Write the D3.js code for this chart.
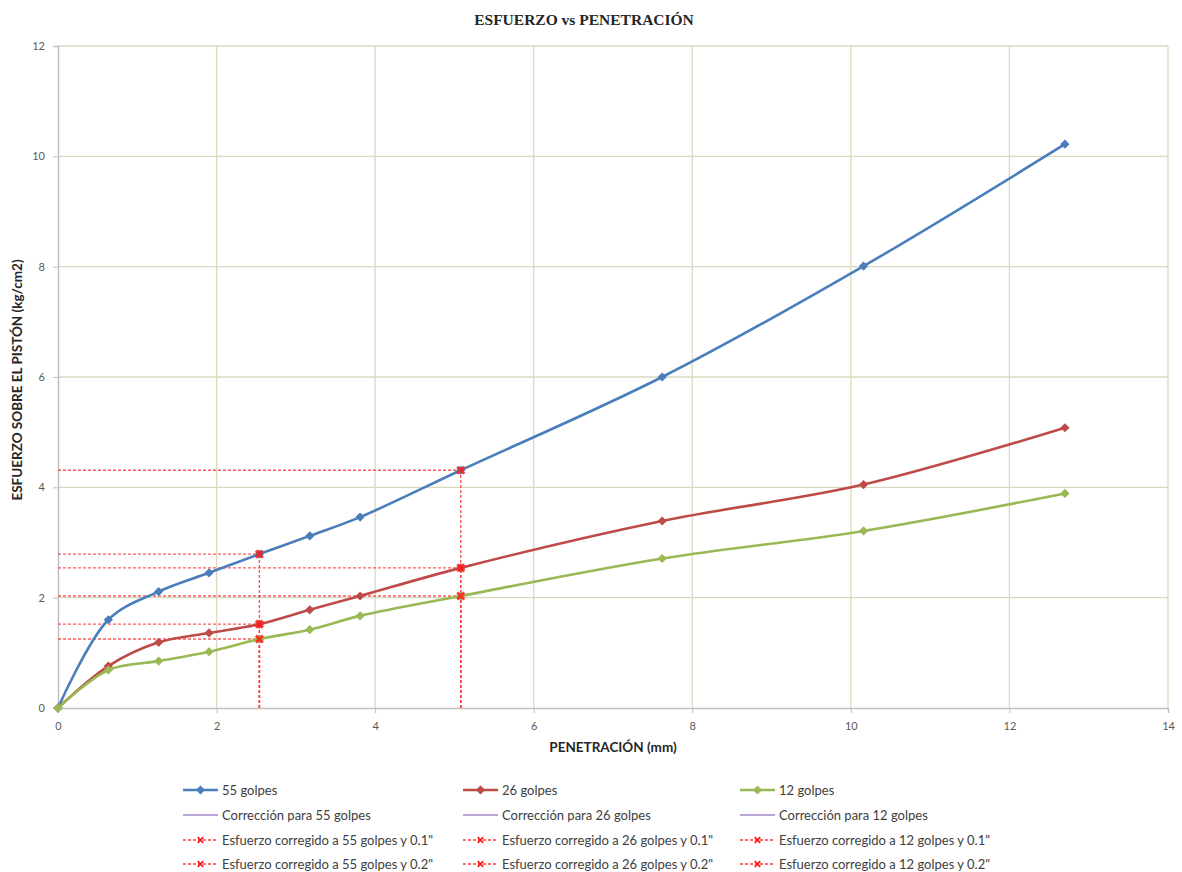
<!DOCTYPE html>
<html>
<head>
<meta charset="utf-8">
<script src="https://cdn.jsdelivr.net/npm/d3@7"></script>
<style>
  html, body { margin: 0; padding: 0; background: #fff; }
  svg { display: block; }
</style>
</head>
<body>
<svg id="chart" width="1182" height="872" font-family="Lato, 'Open Sans', sans-serif"></svg>
<script>
// Penetration readings (mm)
const penetration = [0, 0.635, 1.27, 1.905, 2.54, 3.175, 3.81, 5.08, 7.62, 10.16, 12.7];
// Piston stress (kg/cm2) for each compaction energy
const golpes55 = [0, 1.60, 2.11, 2.45, 2.79, 3.12, 3.46, 4.31, 6.00, 8.01, 10.22];
const golpes26 = [0, 0.76, 1.19, 1.36, 1.52, 1.78, 2.03, 2.54, 3.39, 4.05, 5.08];
const golpes12 = [0, 0.69, 0.85, 1.02, 1.25, 1.42, 1.67, 2.03, 2.71, 3.21, 3.89];

// Corrected stress at 0.1" (2.54 mm) and 0.2" (5.08 mm)
const correctedX = [2.54, 5.08];
const corrected55 = [2.79, 4.31];
const corrected26 = [1.52, 2.54];
const corrected12 = [1.25, 2.03];

const xTicks = [0, 2, 4, 6, 8, 10, 12, 14];
const yTicks = [0, 2, 4, 6, 8, 10, 12];

const seriesNames = ["55 golpes", "26 golpes", "12 golpes"];
const seriesColors = ["#4a7ebb", "#be4b48", "#98b954"];
const seriesValues = [golpes55, golpes26, golpes12];
const correctedValues = [corrected55, corrected26, corrected12];

const svg = d3.select("#chart");
const x = d3.scaleLinear().domain([0, 14]).range([58, 1168]);
const y = d3.scaleLinear().domain([0, 12]).range([708, 46]);

// Gridlines
const grid = svg.append("g");
grid.selectAll("line.gx").data(xTicks.slice(1)).join("line")
  .attr("x1", d => x(d)).attr("x2", d => x(d))
  .attr("y1", y(0)).attr("y2", y(12))
  .attr("stroke", "#dcd8bf").attr("stroke-width", 1.3);
grid.selectAll("line.gy").data(yTicks.slice(1)).join("line")
  .attr("x1", x(0)).attr("x2", x(14))
  .attr("y1", d => y(d)).attr("y2", d => y(d))
  .attr("stroke", "#dcd8bf").attr("stroke-width", 1.3);

// Axes
const xAxis = svg.append("g").attr("transform", `translate(0,${y(0)})`)
  .call(d3.axisBottom(x).tickValues(xTicks).tickSize(5).tickPadding(9).tickFormat(d3.format("d")));
const yAxis = svg.append("g").attr("transform", `translate(${x(0)},0)`)
  .call(d3.axisLeft(y).tickValues(yTicks).tickSize(5).tickPadding(8).tickFormat(d3.format("d")));
[xAxis, yAxis].forEach(a => {
  a.select(".domain").attr("stroke", "#bfbfbf").attr("stroke-width", 1.5);
  a.selectAll(".tick line").attr("stroke", "#bfbfbf");
  a.selectAll(".tick text").attr("fill", "#595959").attr("font-size", 11)
    .attr("font-family", "Lato, sans-serif");
});

// Corrected stress guides (red dashed): horizontal from the stress axis,
// vertical from the penetration axis up to the curve
const guides = svg.append("g");
const seg = d3.line().x(d => x(d[0])).y(d => y(d[1]));
correctedValues.forEach(vals => {
  vals.forEach((v, i) => {
    const px = correctedX[i];
    [[[0, v], [px, v]], [[px, 0], [px, v]]].forEach(pts => {
      guides.append("path").attr("d", seg(pts))
        .attr("fill", "none").attr("stroke", "#ff3b3b").attr("stroke-width", 1.4)
        .attr("stroke-dasharray", "3,2").attr("opacity", 0.85);
    });
  });
});

// Stress-penetration curves
const line = d3.line().curve(d3.curveCatmullRom.alpha(0.5))
  .x(d => x(d[0])).y(d => y(d[1]));
// Square diamond marker
const diamond = "M0,-4.6L4.6,0L0,4.6L-4.6,0Z";

seriesValues.forEach((vals, s) => {
  const pts = penetration.map((p, i) => [p, vals[i]]);
  svg.append("path").attr("d", line(pts))
    .attr("fill", "none").attr("stroke", seriesColors[s]).attr("stroke-width", 2.6);
  svg.append("g").selectAll("path").data(pts).join("path")
    .attr("d", diamond)
    .attr("transform", d => `translate(${x(d[0])},${y(d[1])})`)
    .attr("fill", seriesColors[s]);
});

// Corrected points marked with red crosses
const cross = "M-3.5,-3.5L3.5,3.5M-3.5,3.5L3.5,-3.5";
correctedValues.forEach(vals => {
  vals.forEach((v, i) => {
    svg.append("path").attr("d", cross)
      .attr("transform", `translate(${x(correctedX[i])},${y(v)})`)
      .attr("stroke", "#ff1a1a").attr("stroke-width", 3).attr("fill", "none").attr("opacity", 0.85);
  });
});

// Titles
svg.append("text").attr("x", 584).attr("y", 25).attr("text-anchor", "middle")
  .attr("font-family", "'Liberation Serif', 'DejaVu Serif', serif")
  .attr("font-weight", "bold").attr("font-size", 15.5).attr("fill", "#262626")
  .text("ESFUERZO vs PENETRACIÓN");
svg.append("text").attr("x", 613).attr("y", 752).attr("text-anchor", "middle")
  .attr("font-weight", "bold").attr("font-size", 13.5).attr("fill", "#262626")
  .text("PENETRACIÓN (mm)");
svg.append("text").attr("transform", "translate(22,380) rotate(-90)").attr("text-anchor", "middle")
  .attr("font-weight", "bold").attr("font-size", 13.5).attr("fill", "#262626")
  .text("ESFUERZO SOBRE EL PISTÓN (kg/cm2)");

// Legend
const legendCols = [183, 463, 740];
const legendRows = [790, 815, 840, 864];
const legend = svg.append("g");
function legendText(cx, cy, label) {
  legend.append("text").attr("x", cx + 39).attr("y", cy + 4.5)
    .attr("font-size", 13).attr("fill", "#404040").text(label);
}
seriesNames.forEach((name, s) => {
  const cx = legendCols[s];
  // data series
  let cy = legendRows[0];
  legend.append("line").attr("x1", cx).attr("x2", cx + 35).attr("y1", cy).attr("y2", cy)
    .attr("stroke", seriesColors[s]).attr("stroke-width", 2.6);
  legend.append("path").attr("d", diamond).attr("transform", `translate(${cx + 17.5},${cy})`)
    .attr("fill", seriesColors[s]);
  legendText(cx, cy, name);
  // correction line
  cy = legendRows[1];
  legend.append("line").attr("x1", cx).attr("x2", cx + 35).attr("y1", cy).attr("y2", cy)
    .attr("stroke", "#b9a6d6").attr("stroke-width", 2);
  legendText(cx, cy, "Corrección para " + name);
  // corrected stress at 0.1" and 0.2"
  ["0.1\"", "0.2\""].forEach((inch, k) => {
    const ry = legendRows[2 + k];
    legend.append("line").attr("x1", cx).attr("x2", cx + 35).attr("y1", ry).attr("y2", ry)
      .attr("stroke", "#ff3b3b").attr("stroke-width", 1.4).attr("stroke-dasharray", "3,2");
    legend.append("path").attr("d", cross)
      .attr("transform", `translate(${cx + 17.5},${ry}) scale(0.8)`)
      .attr("stroke", "#ff1a1a").attr("stroke-width", 2.2).attr("fill", "none");
    legendText(cx, ry, "Esfuerzo corregido a " + name + " y " + inch);
  });
});
</script>
</body>
</html>
